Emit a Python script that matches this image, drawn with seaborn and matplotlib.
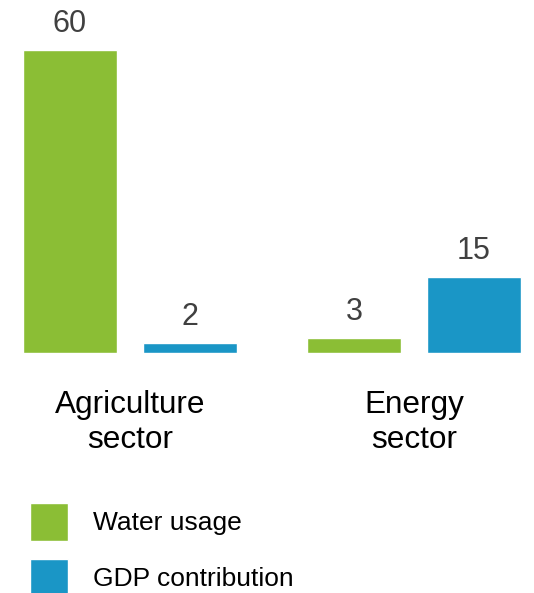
import matplotlib
matplotlib.use("Agg")
import matplotlib.pyplot as plt
import seaborn as sns
import pandas as pd

sectors = ["Agriculture\nsector", "Energy\nsector"]
series = ["Water usage", "GDP contribution"]
water_usage = [60, 3]
gdp_contribution = [2, 15]
colors = ["#8BBE35", "#1A96C6"]

rows = []
for i, s in enumerate(sectors):
    rows.append({"sector": s, "series": series[0], "value": water_usage[i]})
    rows.append({"sector": s, "series": series[1], "value": gdp_contribution[i]})
df = pd.DataFrame(rows)

sns.set_theme(style="white")
plt.rcParams["font.family"] = ["Liberation Sans", "DejaVu Sans"]

fig = plt.figure(figsize=(5.34, 5.93), dpi=100)
ax = fig.add_axes([0, (593 - 353) / 593, 1, 353 / 593])

sns.barplot(data=df, x="sector", y="value", hue="series", palette=colors,
            width=0.845, gap=0.217, ax=ax, legend=True, saturation=1)

for c in ax.containers:
    ax.bar_label(c, padding=8, fontsize=22, color="#404040")

ax.set_xlim(-0.458, 1.423)
ax.set_ylim(0, 69.9)
ax.set_xlabel("")
ax.set_ylabel("")
ax.set_yticks([])
for sp in ax.spines.values():
    sp.set_visible(False)
ax.tick_params(axis="x", length=0, pad=27, labelsize=22.7, labelcolor="black")

handles, labels = ax.get_legend_handles_labels()
leg = ax.legend(handles, labels, loc="upper left",
                bbox_to_anchor=(30 / 534, 1 - 503 / 593), bbox_transform=fig.transFigure,
                frameon=False, fontsize=19, handlelength=1.44, handleheight=1.84,
                handletextpad=0.95, labelspacing=0.68, borderpad=0, borderaxespad=0)
for t in leg.get_texts():
    t.set_color("black")

fig.savefig("out.png", dpi=100)
